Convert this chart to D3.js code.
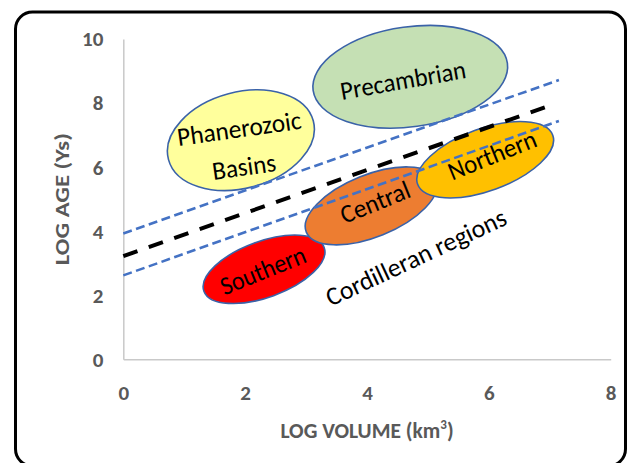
<!DOCTYPE html>
<html>
<head>
<meta charset="utf-8">
<script src="https://cdn.jsdelivr.net/npm/d3@7"></script>
<style>
  html, body { margin: 0; padding: 0; background: #ffffff; }
  svg { display: block; }
</style>
</head>
<body>
<svg id="chart" width="630" height="463"></svg>
<script>
// ---- data ----
const xTicks = [0, 2, 4, 6, 8];
const yTicks = [0, 2, 4, 6, 8, 10];
const xTitle = "LOG VOLUME (km";
const yTitle = "LOG AGE (Ys)";

// region ellipses (data units)
const regionNames = ["Phanerozoic Basins", "Precambrian", "Southern", "Central", "Northern"];
const regionCx    = [1.93, 4.71, 2.31, 4.07, 5.94];
const regionCy    = [6.84, 8.82, 2.81, 4.79, 6.23];
const regionRx    = [1.23, 1.61, 1.05, 1.15, 1.18];
const regionRy    = [1.50, 1.56, 0.875, 0.97, 0.97];
const regionAngle = [-15, -8, -20, -22, -20];
const regionFill  = ["#FFFF9C", "#C5E0B4", "#FF0000", "#ED7D31", "#FFC000"];

// labels (data units)
const labelText  = ["Phanerozoic", "Basins", "Precambrian", "Southern", "Central", "Northern", "Cordilleran regions"];
const labelX     = [1.90, 1.98, 4.59, 2.29, 4.13, 6.05, 4.80];
const labelY     = [7.22, 6.03, 8.73, 2.79, 4.92, 6.39, 3.20];
const labelAngle = [-8, -8, -10, -22, -22, -22, -25];

// trend lines (data units)
const lineNames = ["upper", "center", "lower"];
const lineX0 = [0, 0, 0];
const lineY0 = [3.93, 3.22, 2.62];
const lineX1 = [7.15, 6.92, 7.15];
const lineY1 = [8.72, 7.87, 7.44];
const lineColor = ["#4472C4", "#000000", "#4472C4"];

// ---- layout / style ----
const labelLen = [125, 64, 127, 90, 73, 93, 196];
const svg = d3.select("#chart");
const font = "Carlito, Calibri, Lato, 'Noto Sans', sans-serif";

svg.append("rect")
  .attr("x", 15.5).attr("y", 12).attr("width", 610).attr("height", 454)
  .attr("rx", 17).attr("ry", 17)
  .attr("fill", "#fff").attr("stroke", "#000").attr("stroke-width", 3);

const x = d3.scaleLinear().domain([0, 8]).range([123.3, 610.7]);
const y = d3.scaleLinear().domain([0, 10]).range([359.3, 39]);

// axes
const xAxis = svg.append("g").attr("transform", `translate(0,${y(0)})`)
  .call(d3.axisBottom(x).tickValues(xTicks).tickSize(0).tickPadding(0).tickFormat(d3.format("d")));
xAxis.select(".domain").attr("stroke", "#c9c9c9").attr("stroke-width", 1.5);
xAxis.selectAll("text").attr("dy", null).attr("y", 40.5)
  .attr("fill", "#595959").attr("font-family", font).attr("font-weight", "bold").attr("font-size", 21);

const yAxis = svg.append("g").attr("transform", `translate(${x(0)},0)`)
  .call(d3.axisLeft(y).tickValues(yTicks).tickSize(0).tickPadding(20).tickFormat(d3.format("d")));
yAxis.select(".domain").attr("stroke", "#c9c9c9").attr("stroke-width", 1.5);
yAxis.selectAll("text").attr("dy", "0.33em")
  .attr("fill", "#595959").attr("font-family", font).attr("font-weight", "bold").attr("font-size", 21);

// axis titles
const xt = svg.append("text")
  .attr("x", (x(0) + x(8)) / 2).attr("y", 438)
  .attr("text-anchor", "middle")
  .attr("fill", "#595959").attr("font-family", font).attr("font-weight", "bold").attr("font-size", 21.5);
xt.append("tspan").text(xTitle);
xt.append("tspan").text("3").attr("font-size", 13).attr("dy", -9);
xt.append("tspan").text(")").attr("dy", 9);

svg.append("text")
  .attr("transform", `translate(69,${(y(0) + y(10)) / 2}) rotate(-90)`)
  .attr("text-anchor", "middle")
  .attr("textLength", 132).attr("lengthAdjust", "spacingAndGlyphs")
  .attr("fill", "#595959").attr("font-family", font).attr("font-weight", "bold").attr("font-size", 21)
  .text(yTitle);

// ellipses
const ell = svg.append("g");
regionNames.forEach((name, i) => {
  const cx = x(regionCx[i]), cy = y(regionCy[i]);
  const rx = x(regionRx[i]) - x(0), ry = y(0) - y(regionRy[i]);
  ell.append("ellipse")
    .attr("class", "region")
    .attr("cx", cx).attr("cy", cy).attr("rx", rx).attr("ry", ry)
    .attr("transform", `rotate(${regionAngle[i]},${cx},${cy})`)
    .attr("fill", regionFill[i]).attr("stroke", "#3A62A8").attr("stroke-width", 1.6);
});

// trend lines
lineNames.forEach((n, i) => {
  const isCenter = n === "center";
  svg.append("line")
    .attr("x1", x(lineX0[i])).attr("y1", y(lineY0[i]))
    .attr("x2", x(lineX1[i])).attr("y2", y(lineY1[i]))
    .attr("stroke", lineColor[i])
    .attr("stroke-width", isCenter ? 4 : 2.6)
    .attr("stroke-dasharray", isCenter ? "15,12" : "9,4.5");
});

// labels
labelText.forEach((t, i) => {
  const lx = x(labelX[i]), ly = y(labelY[i]);
  svg.append("text")
    .attr("x", lx).attr("y", ly).attr("dy", "0.36em")
    .attr("transform", `rotate(${labelAngle[i]},${lx},${ly})`)
    .attr("text-anchor", "middle")
    .attr("textLength", labelLen[i]).attr("lengthAdjust", "spacingAndGlyphs")
    .attr("fill", "#000").attr("font-family", font).attr("font-size", 26)
    .text(t);
});
</script>
</body>
</html>
